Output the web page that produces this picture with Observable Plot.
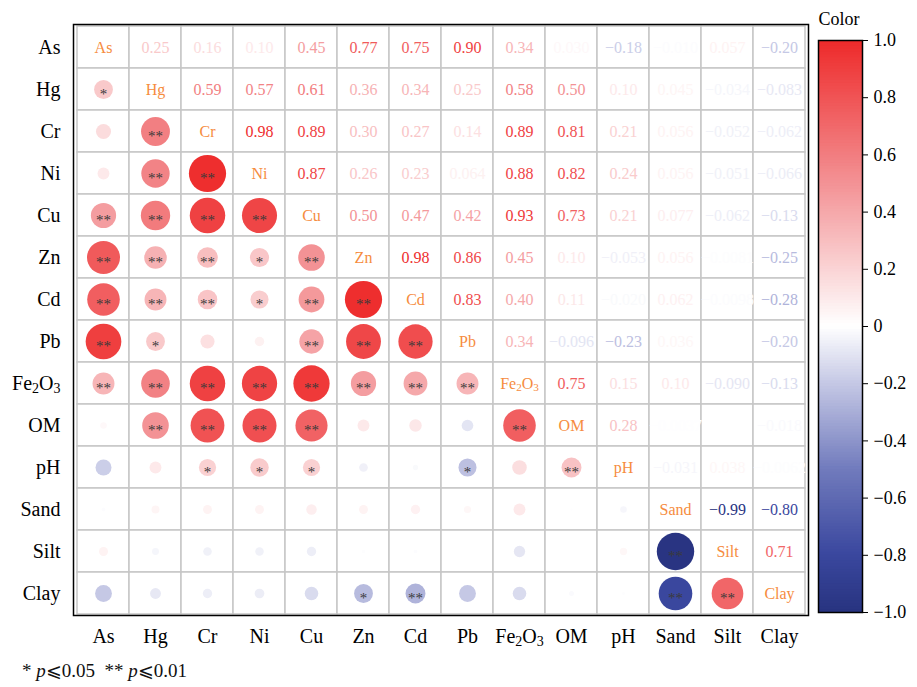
<!DOCTYPE html>
<html>
<head>
<meta charset="utf-8">
<script src="https://cdn.jsdelivr.net/npm/d3@7"></script>
<script src="https://cdn.jsdelivr.net/npm/@observablehq/plot@0.6"></script>
<style>
  body { margin: 0; background: white; }
  #wrap { position: relative; width: 917px; height: 687px; background: white; }
  #main { position: absolute; left: 0; top: 0; }
  #cbar { position: absolute; left: 812px; top: 0; }
  #note { position: absolute; left: 22px; top: 659px; font-family: 'Liberation Serif', 'DejaVu Serif', serif; font-size: 19px; color: #111; white-space: pre; }
  #wrap svg text, #wrap svg tspan { font-family: 'Liberation Serif', 'Times New Roman', 'DejaVu Serif', serif !important; }
</style>
</head>
<body>
<div id="wrap">
  <div id="main"></div>
  <div id="cbar"></div>
  <div id="note">* <i>p</i>⩽0.05  ** <i>p</i>⩽0.01</div>
</div>
<script>
// Variables (rows / columns)
const vars = ["As","Hg","Cr","Ni","Cu","Zn","Cd","Pb","Fe2O3","OM","pH","Sand","Silt","Clay"];

// Upper triangle correlation values, row i, columns i+1..n-1 (null = blank)
const upper = [
  [0.25, 0.16, 0.10, 0.45, 0.77, 0.75, 0.90, 0.34, 0.030, -0.18, -0.010, 0.057, -0.20], // As
  [0.59, 0.57, 0.61, 0.36, 0.34, 0.25, 0.58, 0.50, 0.10, 0.045, -0.034, -0.083],       // Hg
  [0.98, 0.89, 0.30, 0.27, 0.14, 0.89, 0.81, 0.21, 0.056, -0.052, -0.062],             // Cr
  [0.87, 0.26, 0.23, 0.064, 0.88, 0.82, 0.24, 0.056, -0.051, -0.066],                  // Ni
  [0.50, 0.47, 0.42, 0.93, 0.73, 0.21, 0.077, -0.062, -0.13],                          // Cu
  [0.98, 0.86, 0.45, 0.10, -0.053, 0.056, -0.0081, -0.25],                             // Zn
  [0.83, 0.40, 0.11, -0.020, 0.062, -0.0098, -0.28],                                   // Cd
  [0.34, -0.096, -0.23, 0.036, null, -0.20],                                           // Pb
  [0.75, 0.15, 0.10, -0.090, -0.13],                                                   // Fe2O3
  [0.28, -0.0037, null, -0.018],                                                       // OM
  [-0.031, 0.038, -0.0062],                                                            // pH
  [-0.99, -0.80],                                                                      // Sand
  [0.71]                                                                               // Silt
];

// Significance marks, lower triangle: row j, columns 0..j-1
const sig = [
  [],
  ["*"],
  ["", "**"],
  ["", "**", "**"],
  ["**", "**", "**", "**"],
  ["**", "**", "**", "*", "**"],
  ["**", "**", "**", "*", "**", "**"],
  ["**", "*", "", "", "**", "**", "**"],
  ["**", "**", "**", "**", "**", "**", "**", "**"],
  ["", "**", "**", "**", "**", "", "", "", "**"],
  ["", "", "*", "*", "*", "", "", "*", "", "**"],
  ["", "", "", "", "", "", "", "", "", "", ""],
  ["", "", "", "", "", "", "", "", "", "", "", "**"],
  ["", "", "", "", "", "*", "**", "", "", "", "", "**", "**"]
];

// Colour bar tick labels
const cbTicks = [-1, -0.8, -0.6, -0.4, -0.2, 0, 0.2, 0.4, 0.6, 0.8, 1];

// Colour scale stops
const cDomain = [-1, -0.8, -0.5, -0.2, 0, 0.5, 1];
const cRange = ["#283380", "#3a479e", "#717bbd", "#c5c8e5", "#ffffff", "#f39295", "#ee2a2a"];

const upperCells = [], lowerCells = [];
upper.forEach((row, i) => {
  row.forEach((v, k) => {
    const j = i + 1 + k;
    if (v == null) return;
    upperCells.push({x: vars[j], y: vars[i], value: v});
    lowerCells.push({x: vars[i], y: vars[j], value: v, sig: sig[j][i]});
  });
});
const grid = d3.cross(vars, vars).map(([a, b]) => ({x: a, y: b}));
const fmt = d3.format(".2g");
const serif = "'Liberation Serif', 'Times New Roman', 'DejaVu Serif', serif";
const colorOpts = {type: "linear", domain: cDomain, range: cRange, interpolate: "rgb"};

const main = Plot.plot({
  width: 917, height: 656,
  marginLeft: 73, marginRight: 109, marginTop: 24, marginBottom: 41,
  style: {fontFamily: serif, fontSize: "20px", color: "black", background: "white"},
  x: {domain: vars, padding: 0, axis: "bottom", tickSize: 0, tickPadding: 13, label: null},
  y: {domain: vars, padding: 0, tickSize: 0, tickPadding: 13, label: null},
  color: colorOpts,
  r: {domain: [0, 1], range: [0, 18.8]},
  marks: [
    Plot.cell(grid, {x: "x", y: "y", fill: "white", stroke: "#c6c6c6", strokeWidth: 1.5, inset: 0}),
    Plot.dot(lowerCells, {x: "x", y: "y", r: d => Math.abs(d.value), fill: "value"}),
    Plot.text(lowerCells.filter(d => d.sig), {x: "x", y: "y", text: "sig", fontSize: 15, fill: "#3a3a3a", dy: 5}),
    Plot.text(upperCells, {x: "x", y: "y", text: d => fmt(d.value), fill: "value", fontSize: 16}),
    Plot.text(vars, {x: d => d, y: d => d, text: d => d, fill: "#f68c3e", fontSize: 16}),
    Plot.frame({stroke: "black", strokeWidth: 1.5})
  ]
});

const ramp = d3.range(0, 200).map(i => -1 + i * 0.01);
const cbar = Plot.plot({
  width: 105, height: 650,
  marginLeft: 6, marginRight: 55, marginTop: 40, marginBottom: 38,
  style: {fontFamily: serif, fontSize: "18px", color: "black", background: "transparent", overflow: "visible"},
  x: {domain: [0, 1], axis: null},
  y: {domain: [-1, 1], axis: "right", ticks: cbTicks, tickFormat: d => d === 0 ? "0" : d3.format(".1f")(d), tickSize: 5, tickPadding: 6, label: null},
  color: colorOpts,
  marks: [
    Plot.rect(ramp, {x1: d => 0, x2: d => 1, y1: d => d, y2: d => Math.min(1, d + 0.02), fill: d => d + 0.005}),
    Plot.frame({stroke: "black", strokeWidth: 1.5}),
    Plot.text(["Color"], {frameAnchor: "top-left", text: d => d, textAnchor: "start", lineAnchor: "bottom", dy: -16, fontSize: 18})
  ]
});

function subscriptFe(svg) {
  svg.querySelectorAll("text").forEach(t => {
    if (t.children.length === 0 && t.textContent === "Fe2O3") {
      t.innerHTML = 'Fe<tspan baseline-shift="-22%" font-size="70%">2</tspan>O<tspan baseline-shift="-22%" font-size="70%">3</tspan>';
    }
  });
}
subscriptFe(main);
document.getElementById("main").appendChild(main);
document.getElementById("cbar").appendChild(cbar);
</script>
</body>
</html>
